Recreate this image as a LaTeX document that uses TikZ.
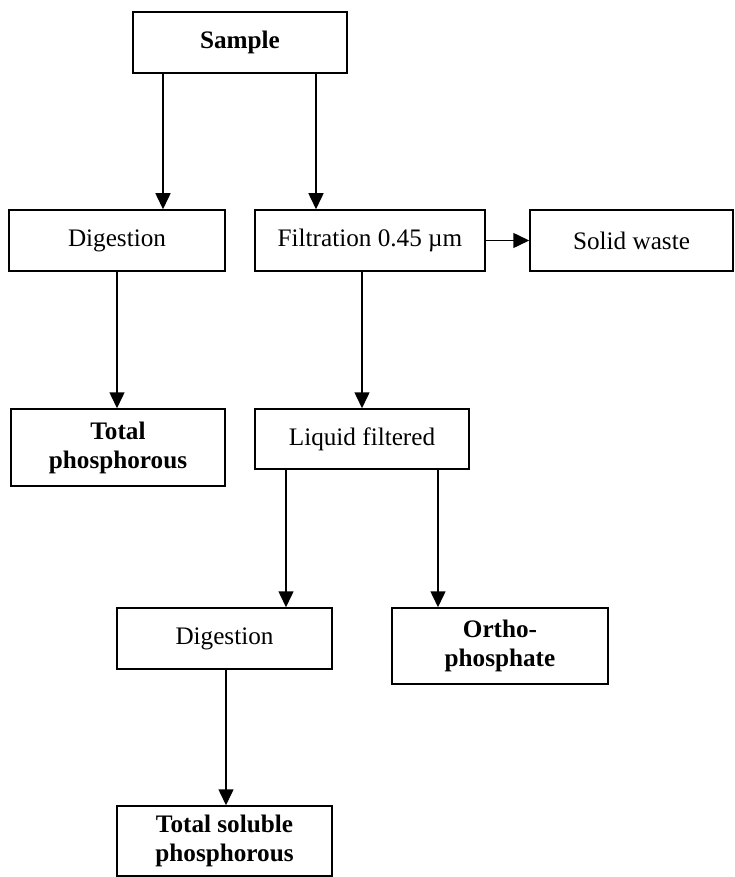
\documentclass[tikz,border=0pt]{standalone}
\usepackage{fontspec}
\setmainfont{Liberation Serif}
\usetikzlibrary{arrows.meta}
\begin{document}
\begin{tikzpicture}[x=0.5pt,y=-0.5pt,line width=0.75pt,
  font=\fontsize{12.6}{14.5}\selectfont]
\tikzstyle{box}=[draw,inner sep=0pt,align=center]
\tikzstyle{arr}=[-{Triangle[length=8pt,width=7.5pt]}]
\useasboundingbox (0,0) rectangle (734,877);
\node[box,minimum width=107pt,minimum height=30.5pt] (sample) at (240,42.5) {\textbf{Sample}};
\node[box,minimum width=108pt,minimum height=30.5pt] (dig1) at (117,240.5) {Digestion};
\node[box,minimum width=115pt,minimum height=30.5pt] (filt) at (370,240.5) {Filtration 0.45 µm};
\node[box,minimum width=101.5pt,minimum height=30.5pt] (solid) at (631.5,240.5) {Solid waste};
\node[box,minimum width=107pt,minimum height=38.5pt] (totp) at (118,447.5) {\textbf{Total}\\\textbf{phosphorous}};
\node[box,minimum width=107pt,minimum height=30pt] (liq) at (362,439) {Liquid filtered};
\node[box,minimum width=107.5pt,minimum height=30.5pt] (dig2) at (224.5,638.5) {Digestion};
\node[box,minimum width=108pt,minimum height=38pt] (ortho) at (500,646) {\textbf{Ortho-}\\\textbf{phosphate}};
\node[box,minimum width=107.5pt,minimum height=35pt] (tsol) at (224.5,841) {\textbf{Total soluble}\\\textbf{phosphorous}};
\draw[arr] ([xshift=-38.5pt]sample.south) -- ([xshift=-38.5pt]sample.south |- dig1.north);
\draw[arr] ([xshift=38pt]sample.south) -- ([xshift=38pt]sample.south |- filt.north);
\draw[arr] (filt.east) -- (solid.west);
\draw[arr] (dig1.south) -- (dig1.south |- totp.north);
\draw[arr] (liq.north |- filt.south) -- (liq.north);
\draw[arr] ([xshift=-38pt]liq.south) -- ([xshift=-38pt]liq.south |- dig2.north);
\draw[arr] ([xshift=38pt]liq.south) -- ([xshift=38pt]liq.south |- ortho.north);
\draw[arr] ([xshift=0.75pt]dig2.south) -- ([xshift=0.75pt]dig2.south |- tsol.north);
\end{tikzpicture}
\end{document}
